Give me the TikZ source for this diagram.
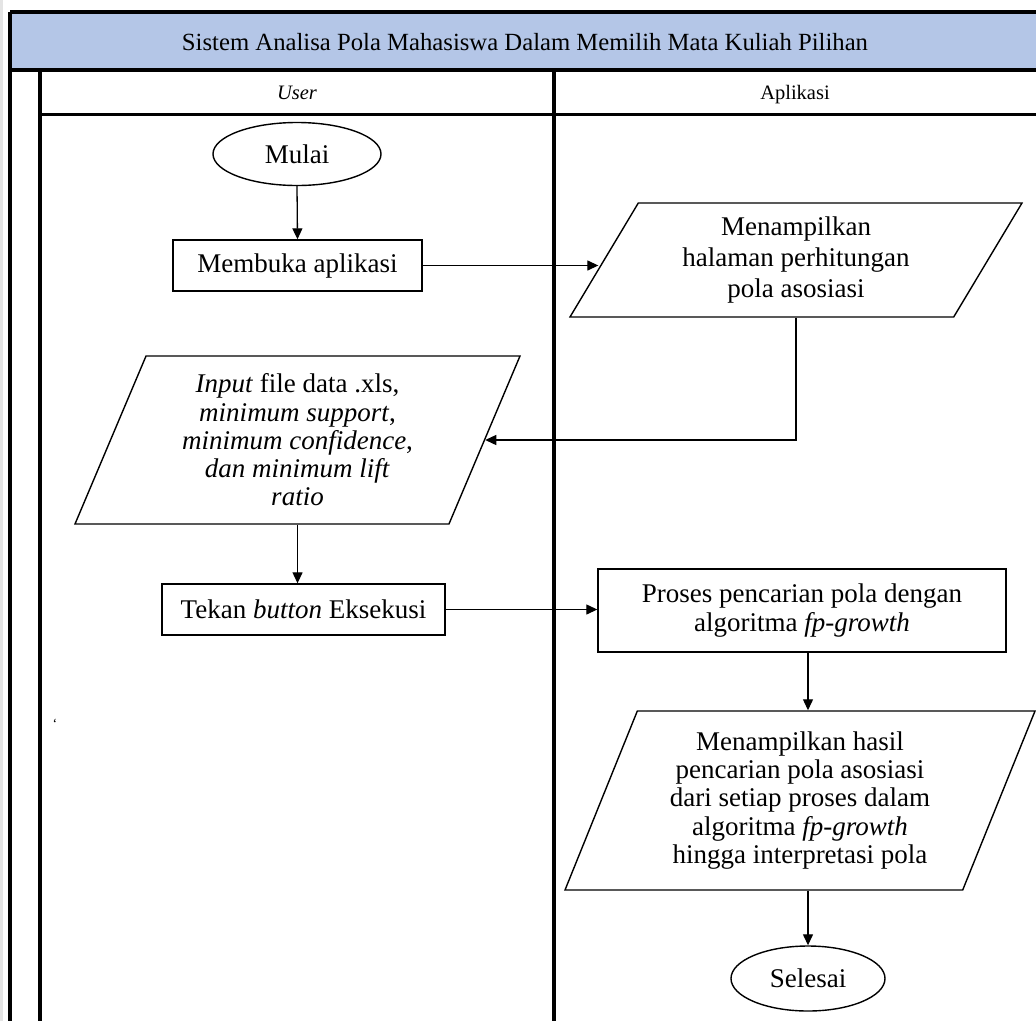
\documentclass[tikz,border=0pt]{standalone}
\usepackage{fontspec}
\setmainfont{Liberation Serif}
\usetikzlibrary{shapes.geometric,arrows.meta,calc}
\definecolor{titleblue}{HTML}{B4C6E7}
\definecolor{edgegray}{HTML}{E4E4E4}
\begin{document}
\begin{tikzpicture}[x=1pt,y=-1pt,
  frame/.style={line width=3.8pt},
  lane/.style={line width=3.2pt},
  txt/.style={font=\fontsize{27}{28.5}\selectfont, align=center},
  procbox/.style={draw, line width=1.4pt, rectangle, txt, inner sep=0pt},
  term/.style={draw, line width=1.4pt, ellipse, txt, inner sep=0pt},
  io/.style={draw, line width=1.4pt, trapezium, trapezium stretches body=true, txt, inner sep=0pt},
  arr/.style={line width=1.3pt, -{Triangle[length=11pt,width=10pt]}},
  head/.style={font=\fontsize{20.5}{24}\selectfont, anchor=base}
]
\useasboundingbox (0,0) rectangle (1036,1021);
\fill[white] (0,0) rectangle (1036,1021);
\fill[edgegray] (0,0) rectangle (3,1021);
% swimlane frame
\fill[titleblue] (10,12) rectangle (1036,70);
\draw[frame] (10,12) -- (1036,12);
\draw[frame] (10,12) -- (10,1021);
\draw[lane] (10,70) -- (1036,70);
\draw[lane] (40,70) -- (40,1021);
\draw[lane] (40,114.5) -- (1036,114.5);
\draw[lane] (554,70) -- (554,1021);
\node[font=\fontsize{24.7}{28}\selectfont, anchor=base] (title) at (525,50) {Sistem Analisa Pola Mahasiswa Dalam Memilih Mata Kuliah Pilihan};
\node[head] (huser) at (297,99.5) {\textit{User}};
\node[head] (happ) at (795,99.5) {Aplikasi};
% nodes
\node[term, minimum width=168pt, minimum height=63pt] (mulai) at (297,154) {Mulai};
\node[procbox, minimum width=249pt, minimum height=51pt] (buka) at (297.5,265.5) {Membuka aplikasi};
\node[io, font=\fontsize{27}{31}\selectfont, trapezium left angle=51.7, trapezium right angle=128.3, minimum width=452pt, minimum height=114pt] (hal) at (796,260)
  {Menampilkan\\halaman perhitungan\\pola asosiasi};
\node[io, font=\fontsize{27}{28.3}\selectfont, trapezium left angle=61.8, trapezium right angle=118.2, minimum width=445pt, minimum height=168pt] (inp) at (297.5,440)
  {\textit{Input} file data .xls,\\\textit{minimum support},\\\textit{minimum confidence},\\\textit{dan minimum lift}\\\textit{ratio}};
\node[procbox, minimum width=283pt, minimum height=51pt] (tekan) at (303.5,609.5) {Tekan \textit{button} Eksekusi};
\node[procbox, font=\fontsize{27}{29.5}\selectfont, minimum width=408pt, minimum height=83pt] (proses) at (802,610.5)
  {Proses pencarian pola dengan\\algoritma \textit{fp-growth}};
\node[io, font=\fontsize{27}{28.3}\selectfont, trapezium left angle=62.3, trapezium right angle=117.7, minimum width=470pt, minimum height=179pt] (hasil) at (800,800.5)
  {Menampilkan hasil\\pencarian pola asosiasi\\dari setiap proses dalam\\algoritma \textit{fp-growth}\\hingga interpretasi pola};
\node[term, minimum width=154pt, minimum height=65pt] (selesai) at (808,978.5) {Selesai};
\node[font=\fontsize{14}{14}\selectfont] (tick) at (55,724) {`};
% connectors
\draw[arr] (mulai.south) -- (buka.north);
\draw[arr] (buka.east) -- ([xshift=-5pt]buka.east -| hal.west);
\draw[arr] (hal.south) |- (inp.east);
\draw[arr] (inp.south) -- (inp.south |- tekan.north);
\draw[arr] (tekan.east) -- (tekan.east -| proses.west);
\draw[arr] (proses.south -| selesai.north) -- (selesai.north |- hasil.north);
\draw[arr] (hasil.south -| selesai.north) -- (selesai.north);
\end{tikzpicture}
\end{document}
